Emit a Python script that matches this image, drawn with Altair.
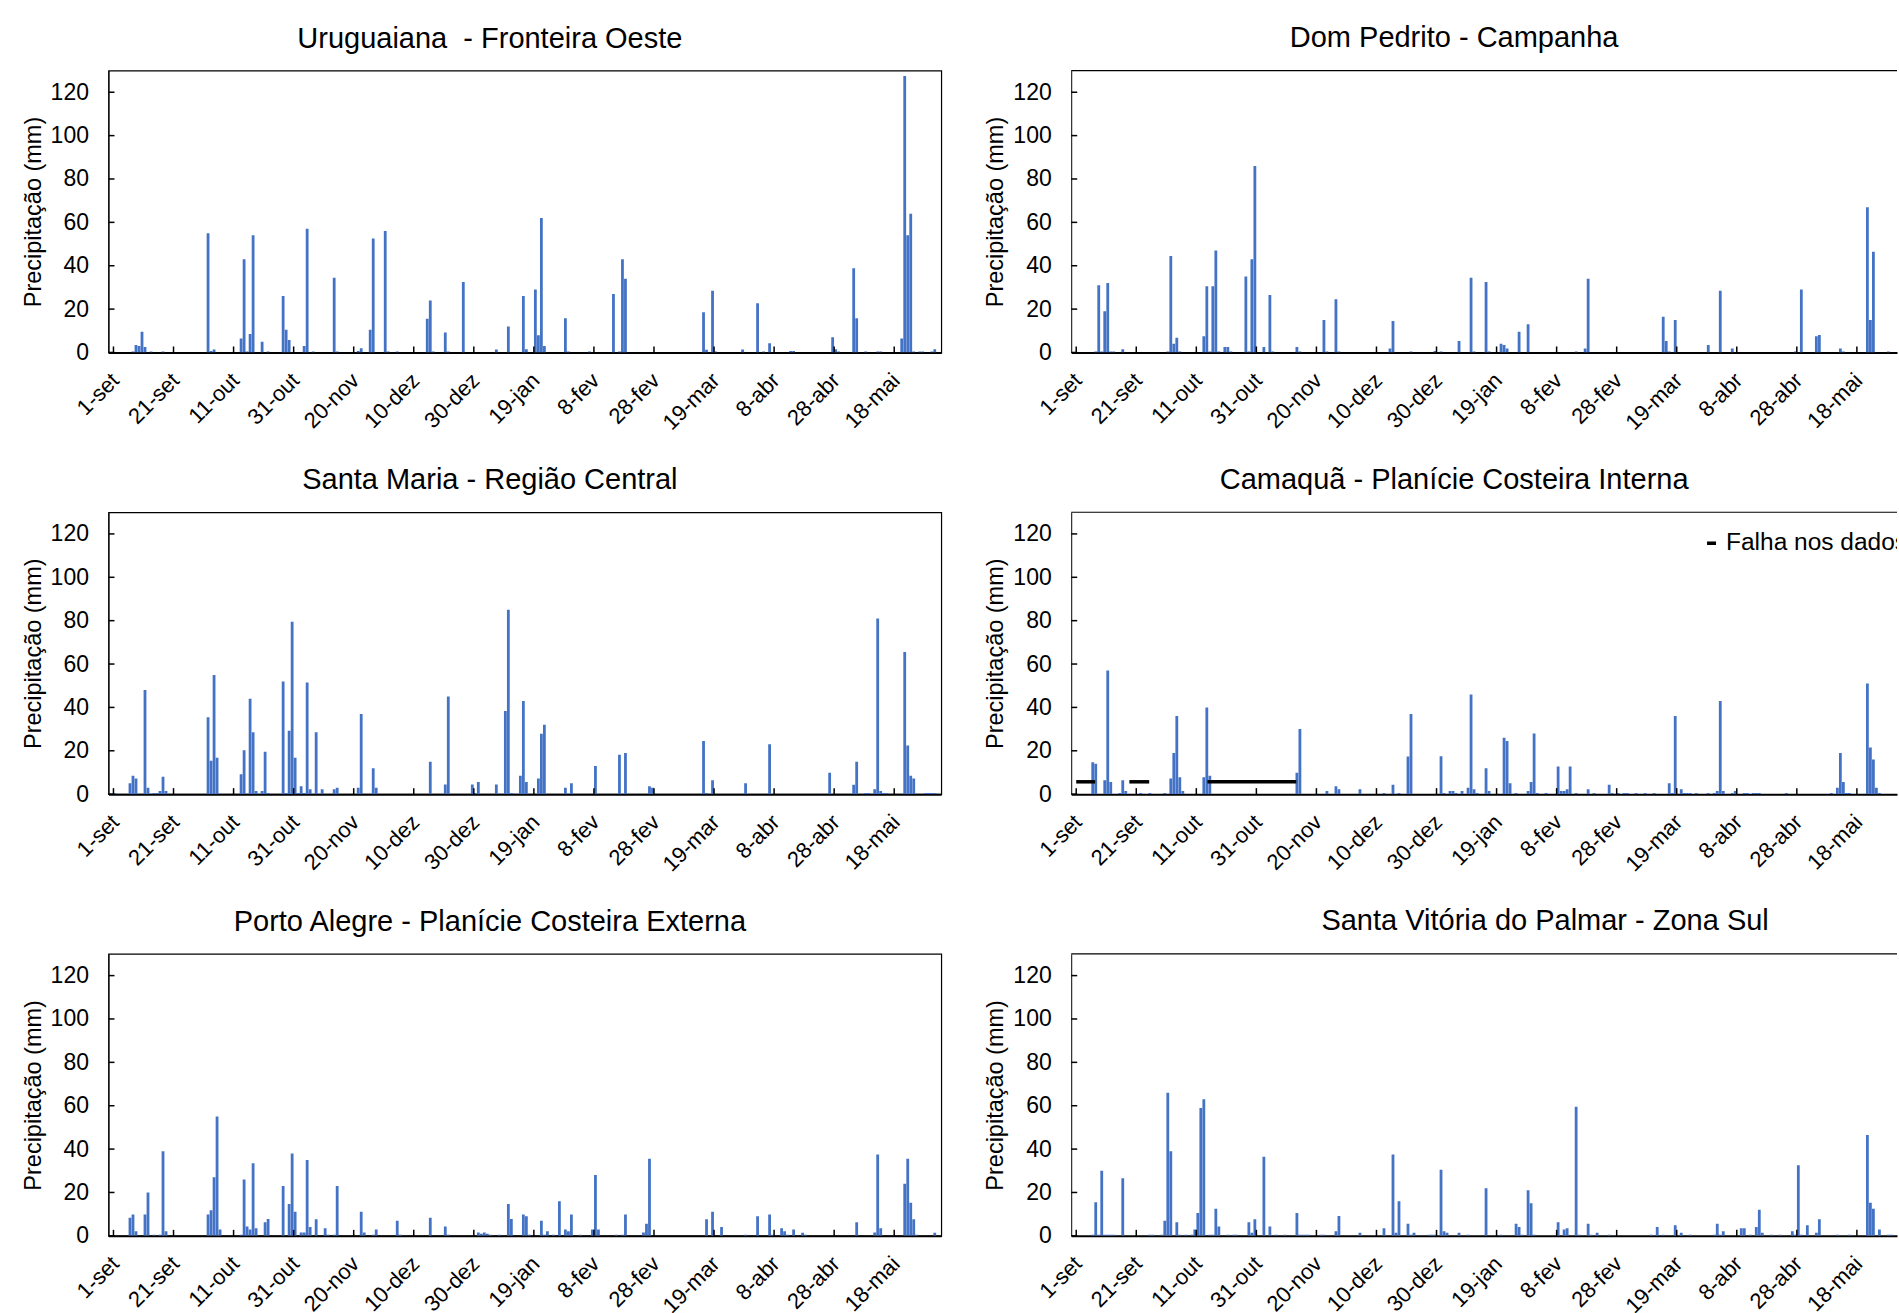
import altair as alt
import pandas as pd

FONT = "Liberation Sans"
BLUE = "#4472C4"
PLOT_W, PLOT_H = 833, 282
RIGHT_W = 826         # right-hand column runs off the page edge
N_DAYS = 274          # 1-set .. 31-mai (leap year)
Y_MAX = 130

TICK_DAYS = [0, 20, 40, 60, 80, 100, 120, 140, 160, 180, 200, 220, 240, 260]
TICK_LABELS = ["1-set", "21-set", "11-out", "31-out", "20-nov", "10-dez", "30-dez",
               "19-jan", "8-fev", "28-fev", "19-mar", "8-abr", "28-abr", "18-mai"]
Y_TICKS = [0, 20, 40, 60, 80, 100, 120]

# Daily rainfall (mm); day 0 = 1-set. Only rainy days listed.
uru_days = [6, 7, 8, 9, 10, 12, 16, 31, 32, 33, 42, 43, 44, 45, 46, 49, 51, 56, 57, 58,
            63, 64, 66, 73, 74, 81, 82, 85, 86, 90, 91, 94, 104, 105, 106, 110, 111, 116,
            127, 131, 136, 137, 140, 141, 142, 143, 150, 151, 158, 166, 168, 169, 170,
            196, 197, 199, 200, 209, 214, 216, 218, 225, 226, 239, 240, 241, 246, 247,
            250, 254, 255, 262, 263, 264, 265, 266, 268, 269, 272, 273]
uru_mm = [0.5, 3.5, 3, 9.5, 2.5, 0.5, 0.5, 55, 0.7, 1.4, 6.5, 43, 0.5, 8.5, 54, 5, 0.5, 26,
          10.5, 5.7, 3, 57, 0.5, 34.5, 0.5, 0.7, 2, 10.5, 52.5, 56, 0.5, 0.5, 15.5, 24, 0.5,
          9.2, 0.5, 32.5, 1.4, 12, 26, 1.5, 29, 8, 62, 3, 15.8, 0.5, 0.5, 27, 0.5, 43, 34,
          18.5, 1.2, 28.5, 0.5, 1.4, 22.7, 0.5, 4.3, 0.7, 0.7, 7, 1.5, 0.5, 38.8, 15.8,
          0.5, 0.5, 0.5, 6.5, 127.5, 54, 64, 0.5, 0.5, 0.5, 0.5, 1.5]

dpe_days = [6, 7, 8, 9, 10, 11, 12, 15, 30, 31, 32, 33, 34, 42, 43, 44, 45, 46, 47, 49, 50,
            51, 56, 57, 58, 59, 62, 64, 65, 73, 74, 82, 83, 86, 87, 104, 105, 111, 119, 121,
            127, 131, 132, 136, 137, 141, 142, 143, 147, 150, 166, 169, 170, 195, 196, 197,
            199, 210, 214, 218, 239, 241, 246, 247, 254, 255, 263, 264, 265, 270]
dpe_mm = [0.5, 31, 0.5, 19, 32, 0.5, 0.5, 1.5, 0.5, 44.5, 4, 6.8, 0.5, 7.5, 30.5, 0.5, 30.5,
          47, 0.5, 2.5, 2.5, 0.5, 35, 0.5, 43, 86, 2.5, 26.5, 0.5, 2.5, 0.5, 15, 0.5, 24.5,
          0.5, 1.8, 14.5, 0.5, 0.7, 0.5, 5.3, 34.5, 0.5, 32.5, 0.5, 4, 3.4, 1.8, 9.5, 13,
          0.5, 1.8, 34, 16.5, 5.3, 0.5, 15, 3.4, 28.5, 1.8, 0.5, 29, 7.5, 8.1, 1.8, 0.5, 67,
          15, 46.5, 0.5]

sma_days = [0, 5, 6, 7, 10, 11, 13, 14, 15, 16, 17, 31, 32, 33, 34, 42, 43, 45, 46, 47, 49,
            50, 51, 56, 57, 58, 59, 60, 61, 62, 63, 64, 65, 67, 69, 73, 74, 81, 82, 86, 87,
            105, 110, 111, 119, 120, 121, 127, 130, 131, 132, 135, 136, 137, 141, 142, 143,
            150, 152, 160, 168, 170, 178, 179, 196, 197, 199, 210, 218, 238, 246, 247, 250,
            251, 253, 254, 255, 256, 257, 263, 264, 265, 266, 270, 271, 272, 273]
sma_mm = [0.5, 5, 8.5, 7.2, 48, 2.9, 0.5, 0.5, 1.5, 8, 1.5, 35.5, 15.4, 55, 16.8, 9.2, 20.2,
          44, 28.5, 1.5, 1.5, 19.5, 0.5, 52, 0.5, 29.2, 79.5, 16.8, 0.5, 3.7, 0.5, 51.5, 2.3,
          28.5, 2.3, 2.3, 2.9, 2.9, 37, 12, 2.9, 15, 4.4, 45, 4.4, 0.5, 5.6, 4.4, 38.3, 85,
          0.5, 8.5, 43, 5.6, 7.2, 27.8, 32, 2.9, 5, 13, 18.2, 19, 3.7, 2.9, 24.5, 0.5, 6.4,
          5, 23, 9.9, 4.3, 15, 0.5, 0.5, 2.3, 81, 1.5, 0.5, 0.5, 65.5, 22.4, 8.5, 7.2, 0.5,
          0.5, 0.5, 0.5]

cam_days = [5, 6, 9, 10, 11, 14, 15, 16, 21, 24, 29, 31, 32, 33, 34, 35, 42, 43, 44, 73, 74,
            83, 86, 87, 94, 102, 105, 107, 110, 111, 121, 122, 124, 125, 126, 128, 130, 131,
            132, 133, 136, 137, 142, 143, 144, 146, 150, 151, 152, 153, 156, 160, 161, 162,
            163, 164, 166, 170, 172, 177, 178, 180, 182, 183, 186, 189, 192, 197, 198, 199,
            201, 202, 203, 204, 206, 210, 212, 213, 214, 215, 218, 219, 222, 223, 225, 226,
            227, 236, 251, 253, 254, 255, 256, 257, 263, 264, 265, 266, 267]
cam_mm = [14.7, 14, 6.4, 57, 5.6, 0.5, 6.4, 1.5, 0.5, 0.5, 0.5, 7.2, 19, 36, 7.8, 1.5, 7.8,
          40, 8.5, 9.9, 30, 1.5, 3.7, 2.3, 2.3, 0.5, 4.3, 0.5, 17.4, 37, 17.5, 0.5, 1.5, 1.5,
          0.5, 1.5, 2.9, 46, 2.3, 0.5, 12, 1.5, 26, 24.5, 5, 0.5, 1.5, 5.6, 28, 0.5, 0.5,
          12.7, 1.5, 1.5, 2.3, 12.7, 0.5, 2.3, 0.5, 4.3, 0.5, 0.5, 0.5, 0.5, 0.5, 0.5, 0.5,
          5, 0.5, 36, 2.3, 0.5, 0.5, 0.5, 0.5, 0.5, 0.5, 1.5, 43, 1.5, 0.5, 1.5, 0.5, 0.5,
          0.5, 0.5, 0.5, 0.5, 0.5, 2.9, 19, 5.6, 0.5, 0.5, 51, 21.5, 16, 2.9, 0.5]

# Camaquã: stretches of days with no record
cam_gap_first = [0, 18, 44]
cam_gap_last = [5, 23, 72]
GAP_LEVEL = 5.7
GAP_LABEL = "Falha nos dados"

poa_days = [5, 6, 7, 10, 11, 13, 15, 16, 17, 31, 32, 33, 34, 35, 42, 43, 44, 45, 46, 47, 50,
            51, 56, 58, 59, 60, 62, 63, 64, 65, 67, 70, 71, 73, 74, 82, 83, 86, 87, 94, 95,
            105, 110, 111, 121, 122, 123, 124, 125, 128, 131, 132, 136, 137, 138, 142, 143,
            144, 146, 148, 150, 151, 152, 155, 159, 160, 161, 167, 169, 170, 176, 177, 178,
            197, 199, 202, 210, 214, 218, 219, 222, 223, 224, 226, 229, 230, 247, 253, 254,
            255, 263, 264, 265, 266, 267, 273]
poa_mm = [8.4, 9.8, 2.1, 9.8, 20, 0.5, 0.5, 39, 2.1, 9.8, 11.8, 27, 55, 2.9, 0.5, 26, 4.3,
          2.9, 33.5, 3.5, 6.3, 7.8, 23, 14.7, 38, 11.1, 1.5, 1.5, 35, 4.1, 7.6, 3.5, 0.5, 0.5,
          23, 11.1, 1.5, 0.5, 2.9, 7, 0.5, 8.4, 4.3, 0.5, 1.5, 1, 1.5, 1, 0.5, 0.5, 14.7, 7.8,
          9.8, 9, 0.5, 7, 0.5, 2.1, 0.5, 16, 2.9, 2.1, 9.8, 0.5, 2.9, 28, 2.9, 0.5, 0.5, 9.8,
          1.5, 5.6, 35.5, 7.6, 11.1, 4.1, 0.5, 9, 9.8, 0.5, 3.5, 2.1, 0.5, 2.9, 1.4, 0.5,
          6.3, 1.5, 37.5, 3.5, 24, 35.5, 15.3, 7.6, 0.5, 1.4]

svp_days = [5, 6, 7, 8, 9, 10, 11, 12, 15, 24, 25, 28, 29, 30, 31, 33, 34, 36, 38, 39, 40,
            41, 42, 44, 45, 46, 47, 50, 52, 53, 57, 58, 59, 62, 64, 66, 69, 73, 74, 75, 76,
            77, 81, 82, 86, 87, 94, 102, 105, 106, 107, 110, 111, 112, 117, 118, 119, 121,
            122, 123, 127, 130, 136, 141, 146, 147, 148, 150, 151, 152, 160, 162, 163, 166,
            167, 170, 171, 173, 177, 191, 193, 195, 199, 201, 204, 212, 213, 214, 215, 221,
            222, 224, 226, 227, 228, 231, 234, 238, 239, 240, 241, 243, 246, 247, 253, 257,
            263, 264, 265, 267, 270, 271]
svp_mm = [0.5, 15.5, 0.5, 30, 0.5, 0.5, 0.5, 0.5, 26.5, 0.5, 0.5, 0.5, 7, 66, 39, 6.3, 0.5,
          0.5, 0.5, 2.9, 10.5, 59, 63, 0.5, 0.5, 12.5, 4.3, 0.5, 0.5, 0.5, 6.3, 1.4, 7.6,
          36.5, 4.3, 0.5, 0.5, 10.5, 0.5, 0.5, 0.5, 0.5, 0.5, 0.5, 2.1, 9.2, 1.4, 3.5, 37.5,
          1.4, 16, 5.6, 0.5, 1.4, 0.5, 0.5, 0.5, 30.5, 2.1, 1.4, 1.4, 0.5, 22, 0.5, 5.6, 4.1,
          0.5, 21, 15, 0.5, 6.3, 2.9, 3.5, 59.5, 0.5, 5.6, 0.5, 1.4, 0.5, 0.5, 4.1, 0.5, 4.9,
          1.4, 0.5, 0.5, 5.6, 0.5, 2.1, 3.5, 3.5, 0.5, 4.1, 12, 1.4, 0.5, 0.5, 2.1, 0.5,
          32.5, 0.5, 4.9, 1.4, 7.6, 0.5, 0.5, 46.5, 15.3, 12.5, 2.9, 0.5, 0.5]

label_js = "[" + ",".join("'%s'" % s for s in TICK_LABELS) + "]"
x_axis = alt.Axis(
    values=[d + 0.5 for d in TICK_DAYS],
    labelExpr=label_js + "[round((datum.value - 0.5) / 20)]",
    labelAngle=-45, labelAlign="right", labelBaseline="middle",
    labelPadding=24, labelFontSize=22, labelFont=FONT, labelColor="black",
    labelOverlap=False, labelFlush=False, ticks=False, tickSize=0, grid=False,
    title=None, domainColor="black", domainWidth=2,
)
y_axis = alt.Axis(
    values=Y_TICKS, labelFontSize=23, labelFont=FONT, labelColor="black",
    labelPadding=20, ticks=False, tickSize=0, grid=False,
    title="Precipitação (mm)", titleFont=FONT, titleFontSize=23.5,
    titleFontWeight="normal", titleColor="black", titlePadding=5,
    domainColor="black", domainWidth=1,
)
y_scale = alt.Scale(domain=[0, Y_MAX], nice=False)


def panel(title, days, mm, width=PLOT_W, title_dx=-35, extra=()):
    # same day spacing in every panel; a narrower panel simply shows fewer days
    x_scale = alt.Scale(domain=[0, N_DAYS * width / PLOT_W], nice=False, zero=False)

    def xq(field):
        return alt.X(f"{field}:Q", scale=x_scale, axis=x_axis)

    def yq(field):
        return alt.Y(f"{field}:Q", scale=y_scale, axis=y_axis)

    df = pd.DataFrame({"dia": days, "mm": mm})
    bars = alt.Chart(df).transform_calculate(
        centro="datum.dia + 0.5"
    ).mark_bar(width=2.8, color=BLUE, orient="vertical", clip=True).encode(
        x=xq("centro"), y=yq("mm")
    )
    xticks = alt.Chart(pd.DataFrame({"dia": TICK_DAYS})).mark_rule(
        color="black", strokeWidth=1.5
    ).encode(x=xq("dia"), y=alt.value(PLOT_H), y2=alt.value(PLOT_H - 6))
    yticks = alt.Chart(pd.DataFrame({"mm": Y_TICKS})).mark_rule(
        color="black", strokeWidth=1.5
    ).encode(y=yq("mm"), x=alt.value(0), x2=alt.value(6))
    layers = [bars, xticks, yticks]
    for build in extra:
        layers.append(build(xq, yq))
    props = dict(
        width=width, height=PLOT_H,
        title=alt.TitleParams(
            text=title, font=FONT, fontSize=29, fontWeight="normal", color="black",
            anchor="middle", frame="group", dx=title_dx, offset=17,
        ),
    )
    if width < PLOT_W:
        # frame open on the right: draw only the top edge
        top = alt.Chart(pd.DataFrame({"k": [0]})).mark_rule(
            color="black", strokeWidth=1.2
        ).encode(x=alt.value(0), x2=alt.value(width), y=alt.value(0))
        layers.append(top)
        props["view"] = alt.ViewBackground(stroke="transparent")
    return alt.layer(*layers).properties(**props)


# Camaquã extras: data-gap markers and their legend entry
def gap_marks(xq, yq):
    gap_df = pd.DataFrame({"primeiro": cam_gap_first, "ultimo": cam_gap_last,
                           "nivel": [GAP_LEVEL] * len(cam_gap_first)})
    return alt.Chart(gap_df).transform_calculate(
        inicio="max(0, datum.primeiro + 0.5 - 0.8)", fim="datum.ultimo + 0.5 + 0.8"
    ).mark_rule(color="black", strokeWidth=3.5).encode(
        x=xq("inicio"), x2="fim:Q", y=yq("nivel")
    )


def legend_dash(xq, yq):
    return alt.Chart(pd.DataFrame({"rotulo": [GAP_LABEL]})).mark_rule(
        color="black", strokeWidth=3.5
    ).encode(x=alt.value(636), x2=alt.value(645), y=alt.value(31))


def legend_text(xq, yq):
    return alt.Chart(pd.DataFrame({"rotulo": [GAP_LABEL]})).mark_text(
        align="left", baseline="middle", font=FONT, fontSize=24.5, color="black", clip=True
    ).encode(x=alt.value(655), y=alt.value(31), text="rotulo:N")


p_uru = panel("Uruguaiana \u00a0- Fronteira Oeste", uru_days, uru_mm)
p_dpe = panel("Dom Pedrito - Campanha", dpe_days, dpe_mm, width=RIGHT_W, title_dx=-30)
p_sma = panel("Santa Maria - Região Central", sma_days, sma_mm)
p_cam = panel("Camaquã - Planície Costeira Interna", cam_days, cam_mm, width=RIGHT_W,
              title_dx=-30, extra=(gap_marks, legend_dash, legend_text))
p_poa = panel("Porto Alegre - Planície Costeira Externa", poa_days, poa_mm)
p_svp = panel("Santa Vitória do Palmar - Zona Sul", svp_days, svp_mm, width=RIGHT_W,
              title_dx=61)

rows = [alt.hconcat(p_uru, p_dpe, spacing=41),
        alt.hconcat(p_sma, p_cam, spacing=41),
        alt.hconcat(p_poa, p_svp, spacing=41)]

chart = alt.vconcat(*rows, spacing=29.8).properties(
    background="white",
    padding={"left": 20.5, "top": 22.4, "right": 0, "bottom": 0},
).configure_view(stroke="black", strokeWidth=1.2)

chart.save("out.html", embed_options={"renderer": "svg", "actions": False})
